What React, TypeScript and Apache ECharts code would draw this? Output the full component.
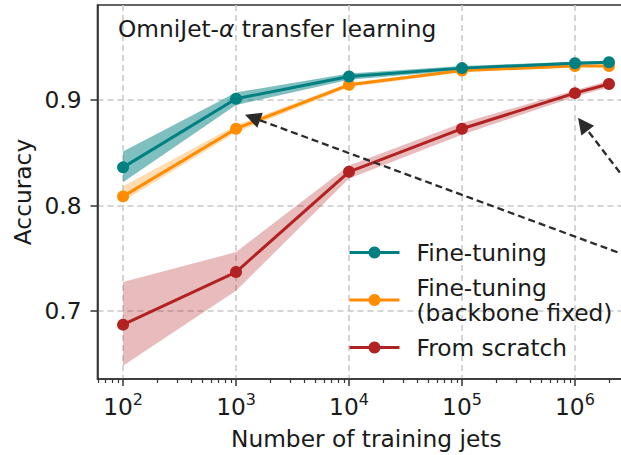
import React, { useEffect, useRef } from "react";
import * as echarts from "echarts";

// Training-set sizes (number of jets)
const N_JETS = [1e2, 1e3, 1e4, 1e5, 1e6, 2e6];

// Fine-tuning (full model)
const FT_MEAN = [0.836, 0.901, 0.922, 0.930, 0.9346, 0.9356];
const FT_LO = [0.822, 0.895, 0.919, 0.928, 0.933, 0.934];
const FT_HI = [0.851, 0.907, 0.925, 0.932, 0.936, 0.937];

// Fine-tuning with the backbone frozen
const FIX_MEAN = [0.8085, 0.8726, 0.9142, 0.9277, 0.932, 0.932];
const FIX_LO = [0.804, 0.869, 0.912, 0.926, 0.931, 0.931];
const FIX_HI = [0.818, 0.876, 0.916, 0.929, 0.933, 0.933];

// Trained from scratch
const FS_MEAN = [0.687, 0.7368, 0.8318, 0.8726, 0.9063, 0.915];
const FS_LO = [0.648, 0.719, 0.8255, 0.867, 0.903, 0.912];
const FS_HI = [0.7274, 0.7557, 0.8377, 0.878, 0.909, 0.918];

const SERIES_NAMES = ["Fine-tuning", "Fine-tuning\n(backbone fixed)", "From scratch"];
const COLORS = ["#008080", "#ff8c00", "#b22222"];
const BAND_COLORS = ["rgba(0,128,128,0.5)", "rgba(255,140,0,0.3)", "rgba(178,34,34,0.3)"];

// Axis ticks
const X_MAJOR = [1e2, 1e3, 1e4, 1e5, 1e6];
const X_MINOR = [
  60, 70, 80, 90,
  200, 300, 400, 500, 600, 700, 800, 900,
  2e3, 3e3, 4e3, 5e3, 6e3, 7e3, 8e3, 9e3,
  2e4, 3e4, 4e4, 5e4, 6e4, 7e4, 8e4, 9e4,
  2e5, 3e5, 4e5, 5e5, 6e5, 7e5, 8e5, 9e5,
  2e6, 3e6,
];
const Y_TICKS = [0.7, 0.8, 0.9];
const X_RANGE = [59.4, 3.4e6];
const Y_RANGE = [0.6355, 0.9898];

// Annotation arrows: [tail, head] in data coordinates
const ARROWS = [
  [[1.28e7, 0.7267], [1400, 0.8832]],
  [[1.28e7, 0.7318], [1.175e6, 0.8769]],
];

const FONT = "DejaVu Sans";
const FS = 23.3;
const TEXT = "#1a1a1a";
const AXIS = "#333333";

// The axes box runs a little past the right edge of the visible area
const VIEW_W = 621;
const VIEW_H = 455;
const CHART_W = 635;

const pairs = (ys: number[]) => N_JETS.map((x, i) => [x, ys[i]]);

// Shaded spread between lower and upper bounds, drawn as one polygon
function bandSeries(lo: number[], hi: number[], color: string) {
  return {
    type: "custom",
    coordinateSystem: "cartesian2d",
    data: [[N_JETS[0], lo[0]]],
    silent: true,
    z: 1,
    renderItem: (_params: any, api: any) => {
      const upper = N_JETS.map((x, i) => api.coord([x, hi[i]]));
      const lower = N_JETS.map((x, i) => api.coord([x, lo[i]])).reverse();
      return {
        type: "polygon",
        shape: { points: [...upper, ...lower] },
        style: { fill: color },
      };
    },
  };
}

function meanSeries(name: string, ys: number[], color: string, z: number) {
  return {
    type: "line",
    name,
    data: pairs(ys),
    symbol: "circle",
    symbolSize: 12,
    lineStyle: { width: 3, color },
    itemStyle: { color },
    z,
  };
}

export default function App() {
  const ref = useRef<HTMLDivElement>(null);

  useEffect(() => {
    if (!ref.current) return;
    const chart = echarts.init(ref.current, null, { renderer: "svg" });

    const option: any = {
      animation: false,
      backgroundColor: "#ffffff",
      textStyle: { fontFamily: FONT },
      title: {
        text: "{n|OmniJet-}{a|α}{n| transfer learning}",
        left: 118,
        top: 17,
        padding: 0,
        textStyle: {
          fontWeight: "normal",
          rich: {
            n: { fontFamily: FONT, fontSize: FS, color: TEXT, fontWeight: "normal" },
            a: { fontFamily: FONT, fontSize: FS, color: TEXT, fontStyle: "italic", fontWeight: "normal" },
          },
        },
      },
      grid: {
        left: 97.5,
        right: 0,
        top: 5,
        bottom: 75,
        show: true,
        borderColor: AXIS,
        borderWidth: 1.6,
        backgroundColor: "transparent",
      },
      legend: {
        orient: "vertical",
        left: 348,
        top: 240,
        padding: 0,
        itemGap: 10,
        itemWidth: 50,
        itemHeight: 15,
        data: SERIES_NAMES,
        lineStyle: { width: 3 },
        textStyle: {
          fontFamily: FONT,
          fontSize: FS,
          lineHeight: 25,
          color: TEXT,
          padding: [0, 0, 0, 12],
        },
      },
      xAxis: [
        {
          type: "log",
          logBase: 10,
          min: X_RANGE[0],
          max: X_RANGE[1],
          position: "bottom",
          name: "Number of training jets",
          nameLocation: "middle",
          nameGap: 48,
          nameTextStyle: { fontFamily: FONT, fontSize: FS, color: TEXT },
          axisLine: { show: true, lineStyle: { color: AXIS, width: 1.6 } },
          axisTick: {
            show: true,
            customValues: X_MAJOR,
            length: 7,
            lineStyle: { color: AXIS, width: 1.5 },
          },
          axisLabel: {
            customValues: X_MAJOR,
            margin: 12,
            formatter: (v: number) => `{b|10}{s|${Math.round(Math.log10(v))}}`,
            rich: {
              b: { fontFamily: FONT, fontSize: FS, color: TEXT, lineHeight: 27, verticalAlign: "bottom" },
              s: { fontFamily: FONT, fontSize: 16, color: TEXT, lineHeight: 27, verticalAlign: "top" },
            },
          },
          splitLine: {
            show: true,
            lineStyle: { color: "#c8c8c8", type: [6, 4], width: 1.5 },
          },
        },
        {
          type: "log",
          logBase: 10,
          min: X_RANGE[0],
          max: X_RANGE[1],
          position: "bottom",
          axisLine: { show: false },
          axisTick: {
            show: true,
            customValues: X_MINOR,
            length: 4,
            lineStyle: { color: AXIS, width: 1.2 },
          },
          axisLabel: { show: false },
          splitLine: { show: false },
        },
      ],
      yAxis: {
        type: "value",
        min: Y_RANGE[0],
        max: Y_RANGE[1],
        name: "Accuracy",
        nameLocation: "middle",
        nameGap: 62,
        nameTextStyle: { fontFamily: FONT, fontSize: FS, color: TEXT },
        axisLine: { show: true, lineStyle: { color: AXIS, width: 1.6 } },
        axisTick: {
          show: true,
          customValues: Y_TICKS,
          length: 7,
          lineStyle: { color: AXIS, width: 1.5 },
        },
        axisLabel: {
          customValues: Y_TICKS,
          margin: 16,
          fontFamily: FONT,
          fontSize: FS,
          color: TEXT,
          formatter: (v: number) => v.toFixed(1),
        },
        splitLine: {
          show: true,
          lineStyle: { color: "#c8c8c8", type: [6, 4], width: 1.5 },
        },
      },
      series: [
        bandSeries(FS_LO, FS_HI, BAND_COLORS[2]),
        bandSeries(FIX_LO, FIX_HI, BAND_COLORS[1]),
        bandSeries(FT_LO, FT_HI, BAND_COLORS[0]),
        meanSeries(SERIES_NAMES[2], FS_MEAN, COLORS[2], 3),
        meanSeries(SERIES_NAMES[1], FIX_MEAN, COLORS[1], 4),
        meanSeries(SERIES_NAMES[0], FT_MEAN, COLORS[0], 5),
        {
          type: "lines",
          coordinateSystem: "cartesian2d",
          data: ARROWS.map((c) => ({ coords: c })),
          symbol: ["none", "triangle"],
          symbolSize: 16,
          lineStyle: { color: "#2b2b2b", width: 2.3, type: [7, 4], opacity: 1 },
          silent: true,
          z: 6,
        },
      ],
    };

    chart.setOption(option);
    return () => chart.dispose();
  }, []);

  return (
    <div
      style={{
        position: "fixed",
        left: 0,
        top: 0,
        width: VIEW_W,
        height: VIEW_H,
        overflow: "hidden",
        background: "#ffffff",
      }}
    >
      <div ref={ref} style={{ width: CHART_W, height: VIEW_H }} />
    </div>
  );
}
